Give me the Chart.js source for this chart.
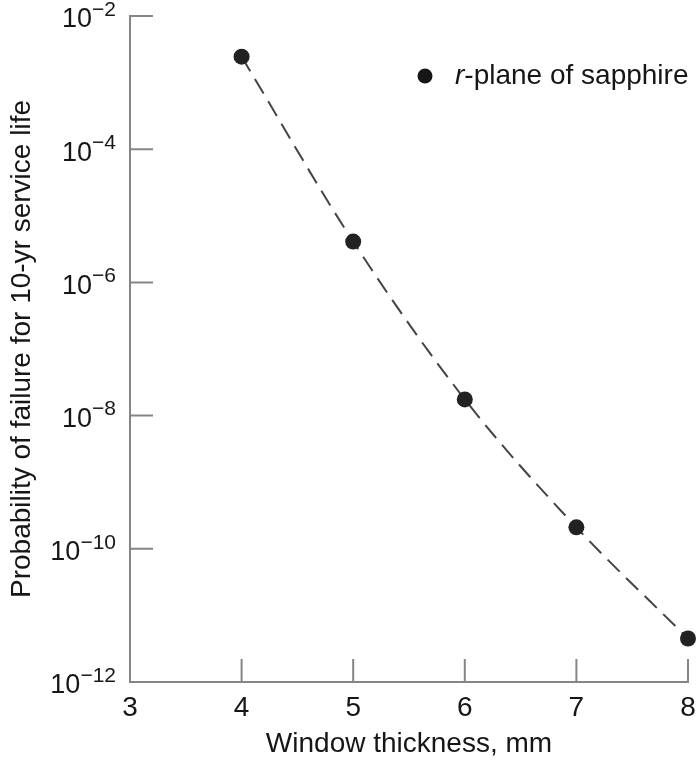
<!DOCTYPE html>
<html>
<head>
<meta charset="utf-8">
<script src="https://cdn.jsdelivr.net/npm/chart.js@4.4.1/dist/chart.umd.min.js"></script>
<style>
  html, body { margin: 0; padding: 0; background: #fff; }
  #wrap { width: 696px; height: 761px; }
</style>
</head>
<body>
<div id="wrap"><canvas id="chart" width="696" height="761"></canvas></div>
<script>
const thickness = [4, 5, 6, 7, 8];
const failureProb = [2.45e-3, 4.1e-6, 1.75e-8, 2.1e-10, 4.5e-12];
const xTicks = [3, 4, 5, 6, 7, 8];
const yTickExps = [-12, -10, -8, -6, -4, -2];
const seriesLabel = 'r-plane of sapphire';

const FONT = '"Liberation Sans", Arial, Helvetica, sans-serif';
const INK = '#161616';
const AXIS = '#858585';

// inward tick marks, superscript y labels and the legend
const decorations = {
    id: 'decorations',
    afterDraw(chart) {
        const ctx = chart.ctx;
        const {left, top, bottom} = chart.chartArea;
        const xs = chart.scales.x, ys = chart.scales.y;
        ctx.save();
        ctx.strokeStyle = AXIS;
        ctx.lineWidth = 2;
        ctx.beginPath();
        xs.ticks.forEach(t => {
            if (t.value === xs.min) return;
            const px = xs.getPixelForValue(t.value);
            ctx.moveTo(px, bottom);
            ctx.lineTo(px, bottom - 23);
        });
        ys.ticks.forEach(t => {
            if (t.value === ys.min) return;
            const py = ys.getPixelForValue(t.value);
            ctx.moveTo(left, py);
            ctx.lineTo(left + 23, py);
        });
        ctx.stroke();

        ctx.fillStyle = INK;
        ctx.textBaseline = 'middle';
        ctx.textAlign = 'left';
        yTickExps.forEach(e => {
            const py = ys.getPixelForValue(Math.pow(10, e));
            const sup = '\u2212' + Math.abs(e);
            ctx.font = '21px ' + FONT;
            const sw = ctx.measureText(sup).width;
            ctx.font = '27px ' + FONT;
            const mw = ctx.measureText('10').width;
            const x0 = left - 14 - sw - mw;
            ctx.fillText('10', x0, py + 4);
            ctx.font = '21px ' + FONT;
            ctx.fillText(sup, x0 + mw, py - 6);
        });

        // legend: dot + italic "r" + rest
        const lx = left + 295, ly = top + 60;
        ctx.beginPath();
        ctx.arc(lx, ly, 7.5, 0, Math.PI * 2);
        ctx.fill();
        const label = chart.data.datasets[0].label;
        ctx.font = 'italic 28px ' + FONT;
        ctx.fillText(label[0], lx + 30, ly);
        const iw = ctx.measureText(label[0]).width;
        ctx.font = '28px ' + FONT;
        ctx.fillText(label.slice(1), lx + 30 + iw, ly);
        ctx.restore();
    }
};

const ctx = document.getElementById('chart').getContext('2d');
new Chart(ctx, {
    type: 'scatter',
    data: {
        datasets: [{
            label: seriesLabel,
            data: thickness.map((x, i) => ({x: x, y: failureProb[i]})),
            showLine: true,
            borderColor: '#444',
            borderWidth: 2,
            borderDash: [17, 9],
            cubicInterpolationMode: 'monotone',
            pointRadius: 8,
            pointHoverRadius: 8,
            pointBackgroundColor: '#222',
            pointBorderWidth: 0,
            clip: false
        }]
    },
    options: {
        responsive: false,
        animation: false,
        layout: { autoPadding: false, padding: { top: 16, right: 0, left: 0, bottom: 0 } },
        plugins: {
            legend: { display: false },
            tooltip: { enabled: false }
        },
        scales: {
            x: {
                type: 'linear',
                min: 3,
                max: 8,
                afterBuildTicks: s => { s.ticks = xTicks.map(v => ({value: v})); },
                afterFit: s => { s.height = 79; s.paddingRight = 8; },
                grid: { display: false, drawTicks: false },
                border: { display: true, color: AXIS, width: 2 },
                ticks: { color: INK, font: { family: FONT, size: 28 }, padding: 9 },
                title: {
                    display: true,
                    text: 'Window thickness, mm',
                    color: INK,
                    font: { family: FONT, size: 28 },
                    padding: { top: 0, bottom: 0 }
                }
            },
            y: {
                type: 'logarithmic',
                min: 1e-12,
                max: 1e-2,
                afterBuildTicks: s => { s.ticks = yTickExps.map(e => ({value: Math.pow(10, e)})); },
                afterFit: s => { s.width = 130; },
                grid: { display: false, drawTicks: false },
                border: { display: true, color: AXIS, width: 2 },
                ticks: { display: false },
                title: {
                    display: true,
                    text: 'Probability of failure for 10-yr service life',
                    color: INK,
                    font: { family: FONT, size: 28 },
                    padding: { top: 5, bottom: 0 }
                }
            }
        }
    },
    plugins: [decorations]
});
</script>
</body>
</html>
